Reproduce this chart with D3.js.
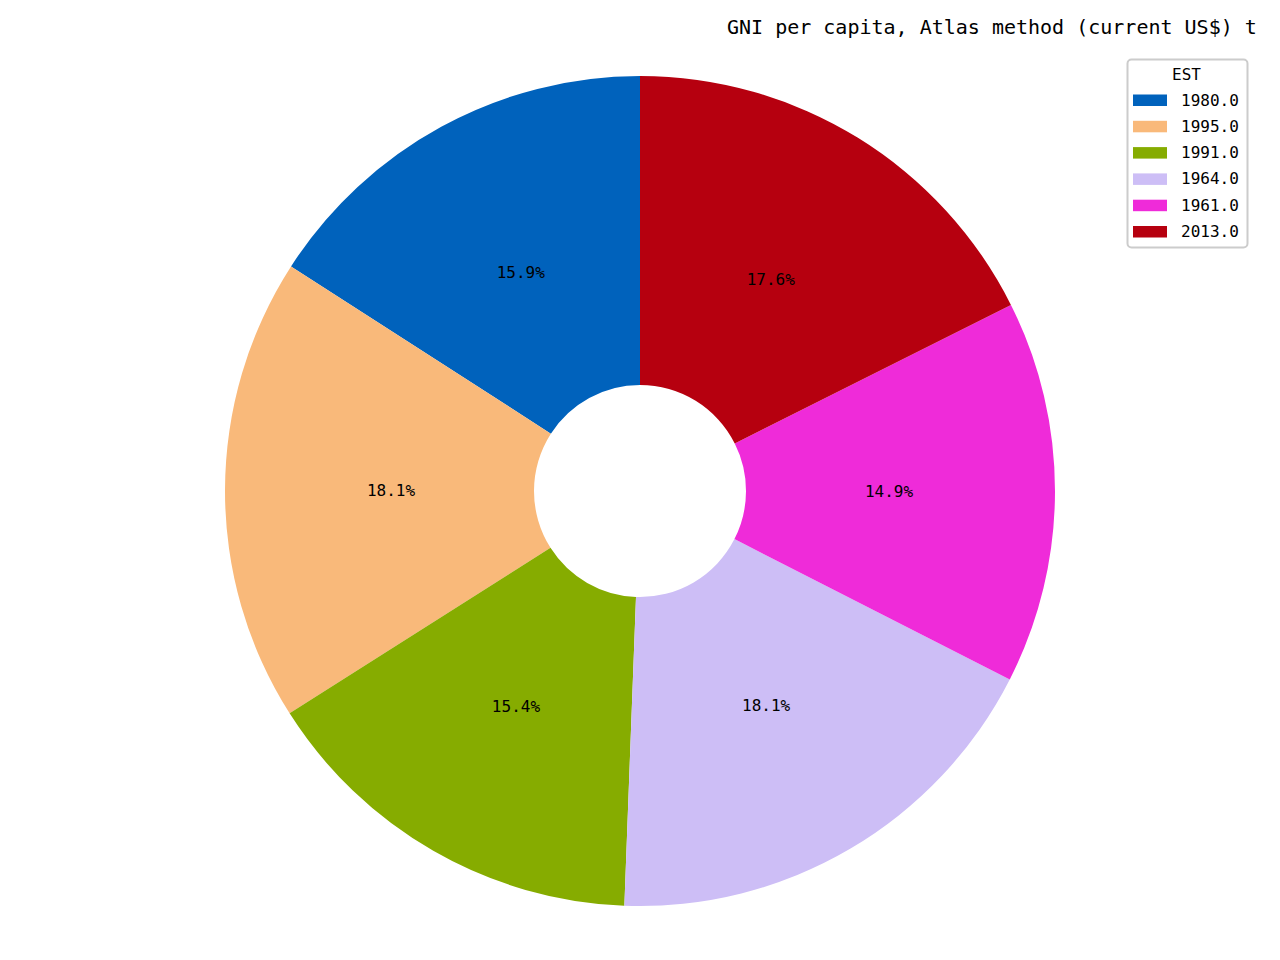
<!DOCTYPE html>
<html>
<head>
<meta charset="utf-8">
<script src="https://cdn.jsdelivr.net/npm/d3@7"></script>
<style>
  html, body { margin: 0; padding: 0; background: #fff; }
  svg { display: block; }
  text { font-family: "DejaVu Sans Mono", monospace; }
</style>
</head>
<body>
<svg id="chart" width="1280" height="960"></svg>
<script>
const titleText = "GNI per capita, Atlas method (current US$) t";
const legendTitle = "EST";
const categories = ["1980.0", "1995.0", "1991.0", "1964.0", "1961.0", "2013.0"];
const shares = [15.9, 18.1, 15.4, 18.1, 14.9, 17.6];
const colors = ["#0062bc", "#f9b97a", "#86ac00", "#cdbef6", "#ef2bd9", "#b6000f"];

const svg = d3.select("#chart");
const W = 1280, H = 960;
const cx = 640, cy = 491, outerR = 415, innerR = 106;

const data = categories.map((c, i) => ({ cat: c, value: shares[i], color: colors[i] }));

const pie = d3.pie().value(d => d.value).sort(null)
  .startAngle(0).endAngle(-2 * Math.PI);
const arcs = pie(data);

const arc = d3.arc().innerRadius(innerR).outerRadius(outerR);
const labelArc = d3.arc().innerRadius(outerR * 0.6).outerRadius(outerR * 0.6);

const g = svg.append("g").attr("transform", `translate(${cx},${cy})`);

g.selectAll("path.slice")
  .data(arcs)
  .join("path")
  .attr("class", "slice")
  .attr("d", arc)
  .attr("fill", d => d.data.color);

const total = d3.sum(shares);
g.selectAll("text.pct")
  .data(arcs)
  .join("text")
  .attr("class", "pct")
  .attr("transform", d => `translate(${labelArc.centroid(d)})`)
  .attr("text-anchor", "middle")
  .attr("dominant-baseline", "central")
  .attr("font-size", 16)
  .attr("fill", "#000")
  .text(d => (d.data.value / total * 100).toFixed(1) + "%");

// Title
svg.append("text")
  .attr("x", 727)
  .attr("y", 34)
  .attr("font-size", 20)
  .attr("fill", "#000")
  .text(titleText);

// Legend
const lg = svg.append("g").attr("class", "legend");
lg.append("rect")
  .attr("x", 1127.5).attr("y", 59.5)
  .attr("width", 120).attr("height", 188)
  .attr("rx", 4).attr("ry", 4)
  .attr("fill", "#fff").attr("fill-opacity", 0.8)
  .attr("stroke", "#cccccc").attr("stroke-width", 2);

lg.append("text")
  .attr("x", 1186.5).attr("y", 74)
  .attr("text-anchor", "middle")
  .attr("dominant-baseline", "central")
  .attr("font-size", 16)
  .text(legendTitle);

const rowY = d3.scaleLinear().domain([0, categories.length - 1]).range([100, 231.5]);

const rows = lg.selectAll("g.row")
  .data(data)
  .join("g")
  .attr("class", "row")
  .attr("transform", (d, i) => `translate(0,${rowY(i)})`);

rows.append("rect")
  .attr("x", 1133).attr("y", -5.5)
  .attr("width", 34).attr("height", 11.5)
  .attr("fill", d => d.color);

rows.append("text")
  .attr("x", 1181).attr("y", 0)
  .attr("dominant-baseline", "central")
  .attr("font-size", 16)
  .text(d => d.cat);
</script>
</body>
</html>
